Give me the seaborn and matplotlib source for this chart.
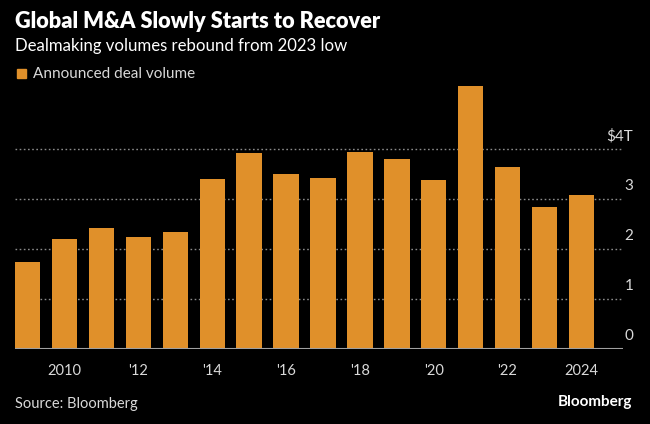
import matplotlib
matplotlib.use("Agg")
import matplotlib.pyplot as plt
import pandas as pd
import seaborn as sns

# ─── Data ────────────────────────────────────────────────
years = list(range(2009, 2025))
deal_volume = [1.75, 2.21, 2.43, 2.25, 2.35, 3.41, 3.93, 3.50, 3.43,
               3.95, 3.81, 3.38, 5.27, 3.65, 2.85, 3.09]
tick_years = [2010, 2012, 2014, 2016, 2018, 2020, 2022, 2024]
tick_labels = ["2010", "'12", "'14", "'16", "'18", "'20", "'22", "2024"]
y_ticks = [0, 1, 2, 3, 4]
y_labels = ["0", "1", "2", "3", "$4T"]

BAR = "#e0902a"
BG = "#000000"
TXT = "#d9d9d9"
GRID = "#8a8a8a"

sns.set_style("dark")
plt.rcParams["font.family"] = ["Lato", "DejaVu Sans"]

df = pd.DataFrame({"year": years, "volume": deal_volume})

fig = plt.figure(figsize=(6.5, 4.24), dpi=100, facecolor=BG)
ax = fig.add_axes([15 / 650, 75 / 424, (623 - 15) / 650, 270 / 424])
ax.set_facecolor(BG)

sns.barplot(data=df, x="year", y="volume", color=BAR, saturation=1,
            width=0.69, linewidth=0, ax=ax, zorder=3)

ax.set_xlim(-0.345, 16.13)
ax.set_ylim(0, 5.4)

# gridlines, dotted, behind bars
for v in y_ticks[1:]:
    ax.axhline(v, color=GRID, lw=1, ls=(0, (1.2, 1.8)), zorder=1)
ax.axhline(0, color="#a0a0a0", lw=1.5, zorder=4)

# y labels sit above their gridlines, on the right
for v, lab in zip(y_ticks, y_labels):
    ax.text(1.017, v + 0.12, lab, transform=ax.get_yaxis_transform(),
            ha="right", va="bottom", color=TXT, fontsize=11)
ax.set_yticks([])

pos = [years.index(y) for y in tick_years]
ax.set_xticks(pos)
ax.set_xticklabels(tick_labels, color=TXT, fontsize=10.5)
ax.tick_params(axis="x", length=5, width=1, color="#a0a0a0", pad=6,
               direction="out")
ax.set_xlabel("")
ax.set_ylabel("")
for s in ax.spines.values():
    s.set_visible(False)
ax.grid(False)

# titles and legend
fig.text(15 / 650, 1 - 22 / 424, "Global M&A Slowly Starts to Recover",
         color="white", fontsize=15.7, fontweight="heavy", va="center")
fig.text(15 / 650, 1 - 46 / 424, "Dealmaking volumes rebound from 2023 low",
         color="white", fontsize=12.1, va="center")
fig.patches.append(plt.Rectangle((17 / 650, 1 - 78 / 424), 9 / 650, 9 / 424,
                                 transform=fig.transFigure, color=BAR))
fig.text(33 / 650, 1 - 73.5 / 424, "Announced deal volume",
         color=TXT, fontsize=11, va="center")

fig.text(15 / 650, 1 - 404 / 424, "Source: Bloomberg",
         color=TXT, fontsize=10.5, va="center")
fig.text(632 / 650, 1 - 402 / 424, "Bloomberg",
         color="white", fontsize=11, fontweight="bold", va="center", ha="right")

fig.savefig("out.png", dpi=100, facecolor=BG)
